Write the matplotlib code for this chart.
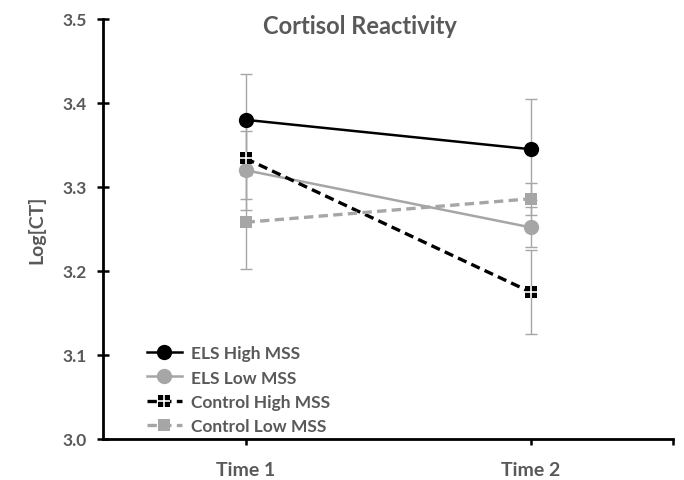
import matplotlib
matplotlib.use("Agg")
import matplotlib.pyplot as plt
from matplotlib.legend_handler import HandlerTuple

categories = ["Time 1", "Time 2"]
series_names = ["ELS High MSS", "ELS Low MSS", "Control High MSS", "Control Low MSS"]
els_high = [3.380, 3.345]
els_low = [3.320, 3.252]
ctrl_high = [3.334, 3.175]
ctrl_low = [3.258, 3.286]
els_high_err = [0.055, 0.060]
els_low_err = [0.047, 0.024]
ctrl_high_err = [0.048, 0.050]
ctrl_low_err = [0.056, 0.019]
yticks = [3.0, 3.1, 3.2, 3.3, 3.4, 3.5]

plt.rcParams['font.family'] = ['Lato', 'DejaVu Sans']
TXT = '#595959'
GRAY = '#A6A6A6'

fig = plt.figure(figsize=(6.84, 4.81), dpi=100)
ax = fig.add_axes([103/684, 1-440/481, (673-103)/684, 420/481])

x = [0.5, 1.5]
DASH = (0, (2.8, 1.6))
data = [
    (els_high, els_high_err, 'black', '-', 'o', 11),
    (els_low, els_low_err, GRAY, '-', 'o', 11),
    (ctrl_high, ctrl_high_err, 'black', DASH, 's', 8.5),
    (ctrl_low, ctrl_low_err, GRAY, DASH, 's', 8.5),
]
for vals, errs, c, ls, m, ms in data:
    ax.errorbar(x, vals, yerr=errs, fmt='none', ecolor=GRAY, elinewidth=1.0,
                capsize=4, capthick=1.0, zorder=1)

handles = []
for (vals, errs, c, ls, m, ms), name in zip(data, series_names):
    lw = 1.8 if ls == '-' else 2.4
    ln, = ax.plot(x, vals, color=c, linestyle=ls, linewidth=lw, marker=m,
                  markersize=ms, markeredgewidth=0, zorder=3)
    if name == "Control High MSS":
        pl, = ax.plot(x, vals, linestyle='none', marker='+', color='white',
                      markersize=ms, markeredgewidth=1.2, zorder=4)
        handles.append((ln, pl))
    else:
        handles.append(ln)

ax.set_xlim(0, 2)
ax.set_ylim(3.0, 3.5)
ax.set_yticks(yticks)
ax.set_yticklabels([f"{v:.1f}" for v in yticks])
ax.set_xticks([0.5, 1.5, 2.0])
ax.set_xticklabels(categories + [""])

for s in ['top', 'right']:
    ax.spines[s].set_visible(False)
for s in ['left', 'bottom']:
    ax.spines[s].set_linewidth(2)
    ax.spines[s].set_color('black')

ax.tick_params(axis='y', direction='inout', length=8, width=1.8, colors='black',
               labelcolor=TXT, labelsize=12.5, pad=8)
ax.tick_params(axis='x', direction='out', length=4, width=1.8, colors='black',
               labelcolor=TXT, labelsize=14, pad=12)
for lab in ax.get_yticklabels() + ax.get_xticklabels():
    lab.set_fontweight('bold')

ax.set_ylabel("Log[CT]", color=TXT, fontsize=14, fontweight='bold', labelpad=12)
fig.text(360/684, 1-27/481, "Cortisol Reactivity", color=TXT, fontsize=17,
         fontweight='bold', ha='center', va='center')

leg = ax.legend(handles, series_names, loc='lower left', bbox_to_anchor=(0.05, -0.025),
                frameon=False, fontsize=12.5, handlelength=2.0, handletextpad=0.55,
                labelspacing=0.47, handler_map={tuple: HandlerTuple(ndivide=1, pad=0)})
for t in leg.get_texts():
    t.set_color(TXT)
    t.set_fontweight('bold')

fig.savefig("out.png", dpi=100)
